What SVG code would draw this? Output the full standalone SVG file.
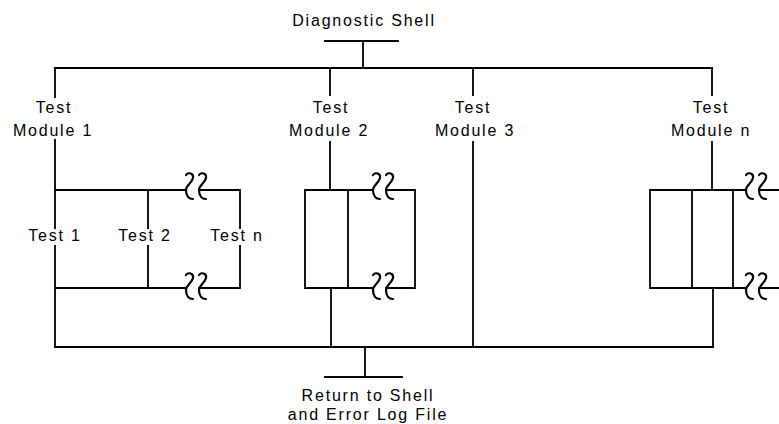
<svg xmlns="http://www.w3.org/2000/svg" xmlns:xlink="http://www.w3.org/1999/xlink" width="779" height="424" viewBox="0 0 779 424">
<style>
  .ln { stroke: #000; stroke-width: 1.8; fill: none; stroke-linecap: square; }
  .sq { stroke: #000; stroke-width: 2.2; fill: none; stroke-linecap: round; }
  text { font-family: "Liberation Sans", Arial, sans-serif; font-size: 16px; fill: #000; text-anchor: middle; letter-spacing: 1.8px; }
</style>
<defs>
  <g id="brk">
    <path class="sq" d="M1,-13 C3,-16 9,-15 8,-10 C7,-5 1,-3 1,2 C1,8 4,11 8,11"/>
    <path class="sq" d="M14,-13 C16,-16 22,-15 21,-10 C20,-5 14,-3 14,2 C14,8 17,11 21,11"/>
  </g>
</defs>
<rect width="779" height="424" fill="#fff"/>

<g id="connectors">
  <!-- shell stub and top bus -->
  <path class="ln" d="M325,41 H398 M363,41 V68 M55,68 H712"/>
  <!-- drops to modules -->
  <path class="ln" d="M55,68 V97 M330,68 V95 M473,68 V95 M712,68 V95"/>
  <!-- module 1 tree -->
  <path class="ln" d="M55,140 V228 M55,246 V347 M55,190 H186 M199,190 H240 V228 M148,190 V228 M148,246 V288 M240,246 V288 M55,288 H186 M199,288 H240"/>
  <!-- module 2 -->
  <path class="ln" d="M330,142 V190 M305,190 H373 M386,190 H415 V288 M305,190 V288 M348,190 V288 M305,288 H373 M386,288 H415 M331,288 V347"/>
  <!-- module 3 -->
  <path class="ln" d="M473,142 V347"/>
  <!-- module n -->
  <path class="ln" d="M712,142 V190 M650,190 H746 M759,190 H779 M650,190 V288 M692,190 V288 M733,190 V288 M650,288 H746 M759,288 H779 M713,288 V347"/>
  <!-- bottom bus and return stub -->
  <path class="ln" d="M55,347 H713 M365,347 V377 M325,377 H402"/>
  <!-- breaks -->
  <use xlink:href="#brk" href="#brk" x="185" y="188"/>
  <use xlink:href="#brk" href="#brk" x="185" y="288"/>
  <use xlink:href="#brk" href="#brk" x="372" y="188"/>
  <use xlink:href="#brk" href="#brk" x="372" y="288"/>
  <use xlink:href="#brk" href="#brk" x="745" y="188"/>
  <use xlink:href="#brk" href="#brk" x="745" y="288"/>
</g>

<g id="shell"><text x="364" y="26">Diagnostic Shell</text></g>
<g id="module1"><text x="54" y="113">Test</text><text x="53" y="136">Module 1</text></g>
<g id="module2"><text x="331" y="113">Test</text><text x="329" y="136">Module 2</text></g>
<g id="module3"><text x="473" y="113">Test</text><text x="475" y="136">Module 3</text></g>
<g id="modulen"><text x="711" y="113">Test</text><text x="711" y="136">Module n</text></g>
<g id="test1"><text x="55" y="241">Test 1</text></g>
<g id="test2"><text x="145" y="241">Test 2</text></g>
<g id="testn"><text x="237" y="241">Test n</text></g>
<g id="return"><text x="368" y="401">Return to Shell</text><text x="368" y="420">and Error Log File</text></g>
</svg>
